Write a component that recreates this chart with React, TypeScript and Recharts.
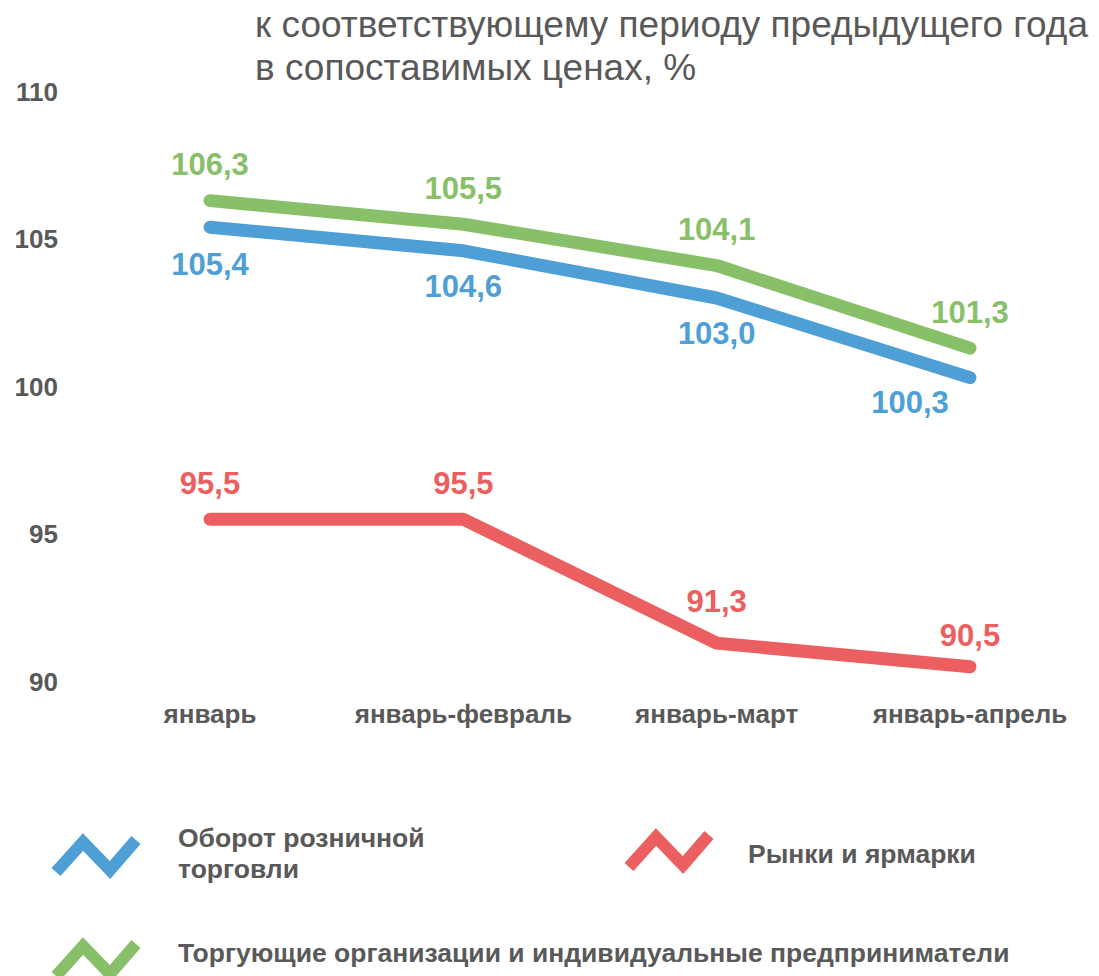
import React from "react";
import { LineChart, Line, XAxis, YAxis, LabelList } from "recharts";

const categories = ["январь", "январь-февраль", "январь-март", "январь-апрель"];
const retailTurnover = [105.4, 104.6, 103.0, 100.3];
const tradingOrgs = [106.3, 105.5, 104.1, 101.3];
const marketsFairs = [95.5, 95.5, 91.3, 90.5];
const yTicks = [90, 95, 100, 105, 110];
const titleLines = ["к соответствующему периоду предыдущего года", "в сопоставимых ценах, %"];
const seriesNames = {
  retail: "Оборот розничной торговли",
  markets: "Рынки и ярмарки",
  orgs: "Торгующие организации и индивидуальные предприниматели",
};

const data = categories.map((c, i) => ({
  name: c,
  retail: retailTurnover[i],
  orgs: tradingOrgs[i],
  markets: marketsFairs[i],
}));

const BLUE = "#4F9FD7";
const GREEN = "#88C06A";
const RED = "#EC5F60";
const GRAY = "#595959";
const FONT = "'Liberation Sans', Arial, sans-serif";

const fmt = (v: number) => v.toFixed(1).replace(".", ",");

const makeLabel = (color: string, dxs: number[], dys: number[]) => (props: any) => {
  const { x, y, value, index } = props;
  return (
    <text
      x={x + dxs[index]}
      y={y + dys[index]}
      fill={color}
      textAnchor="middle"
      dominantBaseline="central"
      fontFamily={FONT}
      fontWeight="bold"
      fontSize={31}
    >
      {fmt(value)}
    </text>
  );
};

const Icon = ({ color, left, top }: { color: string; left: number; top: number }) => (
  <svg
    width={110}
    height={60}
    style={{ position: "absolute", left, top, overflow: "visible" }}
  >
    <polyline
      points="16,47 43,17 70,45 96,15"
      fill="none"
      stroke={color}
      strokeWidth={12}
      strokeLinejoin="miter"
    />
  </svg>
);

const legendText: React.CSSProperties = {
  position: "absolute",
  fontFamily: FONT,
  fontWeight: "bold",
  fontSize: 26.5,
  lineHeight: "31px",
  color: GRAY,
  whiteSpace: "nowrap",
};

export default function App() {
  return (
    <div
      style={{
        position: "absolute",
        left: 0,
        top: 0,
        width: 1099,
        height: 976,
        overflow: "hidden",
        background: "#fff",
        fontFamily: FONT,
      }}
    >
      <div
        style={{
          position: "absolute",
          left: 255,
          top: 3,
          fontSize: 37,
          lineHeight: "43px",
          color: GRAY,
          whiteSpace: "nowrap",
        }}
      >
        {titleLines.map((t) => (
          <div key={t}>{t}</div>
        ))}
      </div>
      <div style={{ position: "absolute", left: 0, top: 0 }}>
        <LineChart
          width={1099}
          height={760}
          data={data}
          margin={{ top: 91.5, right: 2, left: 0, bottom: 0 }}
        >
          <XAxis
            dataKey="name"
            height={78.5}
            padding={{ left: 127, right: 127 }}
            axisLine={false}
            tickLine={false}
            tickMargin={17}
            interval={0}
            tick={{ fill: GRAY, fontSize: 26, fontWeight: "bold", fontFamily: FONT }}
          />
          <YAxis
            width={83}
            domain={[90, 110]}
            ticks={yTicks}
            axisLine={false}
            tickLine={false}
            tickMargin={19}
            tick={{ fill: GRAY, fontSize: 26, fontWeight: "bold", fontFamily: FONT }}
          />
          <Line
            dataKey="markets"
            stroke={RED}
            strokeWidth={13}
            strokeLinecap="round"
            strokeLinejoin="round"
            dot={false}
            activeDot={false}
            isAnimationActive={false}
          >
            <LabelList dataKey="markets" content={makeLabel(RED, [0, 0, 0, 0], [-36, -36, -42, -31])} />
          </Line>
          <Line
            dataKey="retail"
            stroke={BLUE}
            strokeWidth={13}
            strokeLinecap="round"
            strokeLinejoin="round"
            dot={false}
            activeDot={false}
            isAnimationActive={false}
          >
            <LabelList dataKey="retail" content={makeLabel(BLUE, [0, 0, 0, -60], [37, 36, 35, 25])} />
          </Line>
          <Line
            dataKey="orgs"
            stroke={GREEN}
            strokeWidth={13}
            strokeLinecap="round"
            strokeLinejoin="round"
            dot={false}
            activeDot={false}
            isAnimationActive={false}
          >
            <LabelList dataKey="orgs" content={makeLabel(GREEN, [0, 0, 0, 0], [-36, -36, -36, -36])} />
          </Line>
        </LineChart>
      </div>
      <Icon color={BLUE} left={40} top={825} />
      <div style={{ ...legendText, left: 178, top: 822.5 }}>
        Оборот розничной
        <br />
        торговли
      </div>
      <Icon color={RED} left={613} top={820} />
      <div style={{ ...legendText, left: 748, top: 839 }}>{seriesNames.markets}</div>
      <Icon color={GREEN} left={40} top={929} />
      <div style={{ ...legendText, left: 178, top: 937.5 }}>{seriesNames.orgs}</div>
    </div>
  );
}
